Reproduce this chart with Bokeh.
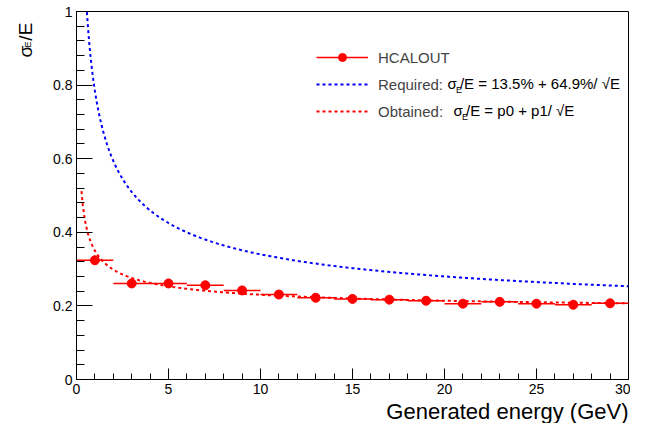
import numpy as np
from bokeh.plotting import figure
from bokeh.layouts import row
from bokeh.models import (Range1d, FixedTicker, Label, Legend, LegendItem,
                          ColumnDataSource, Title)
from bokeh.embed import file_html
from bokeh.resources import INLINE

# ---------------- data ----------------
energy = [1, 3, 5, 7, 9, 11, 13, 15, 17, 19, 21, 23, 25, 27, 29]
energy_halfwidth = [1] * 15
resolution = [0.324, 0.261, 0.261, 0.256, 0.242, 0.231, 0.222, 0.219,
              0.217, 0.214, 0.206, 0.211, 0.206, 0.203, 0.207]

# Required: sigma/E = 13.5% + 64.9%/sqrt(E)
req_constant = 0.135
req_stochastic = 0.649
req_range = (0.4, 30.0)

# Obtained fit: p0 + p1/sqrt(E)
fit_p0 = 0.175
fit_p1 = 0.175
fit_range = (0.27, 30.0)

x_ticks = [0, 5, 10, 15, 20, 25, 30]
x_tick_labels = ["0", "5", "10", "15", "20", "25", "30"]
y_ticks = [0, 0.2, 0.4, 0.6, 0.8, 1.0]
y_tick_labels = ["0", "0.2", "0.4", "0.6", "0.8", "1"]

legend_labels = ["HCALOUT", "Required:", "Obtained:"]
x_title = "Generated energy (GeV)"

FONT = "Liberation Sans"
H = 423          # figure height
YT_W = 40        # width of the y-title strip
TOTAL_W = 630

# ---------------- main figure ----------------
p = figure(width=TOTAL_W - YT_W, height=H, x_range=Range1d(0, 30),
           y_range=Range1d(0, 1), output_backend="svg", toolbar_location=None,
           min_border_left=76 - YT_W, min_border_right=2, min_border_top=11,
           min_border_bottom=42)
p.xgrid.visible = False
p.ygrid.visible = False
p.outline_line_color = "black"
p.outline_line_width = 1
p.background_fill_color = "white"
p.border_fill_color = "white"

x_minor = [v for v in range(0, 31) if v % 5 != 0]
y_minor = [round(v, 2) for v in np.arange(0, 1.0001, 0.04) if round(v / 0.2, 6) % 1 != 0]
p.xaxis.ticker = FixedTicker(ticks=x_ticks, minor_ticks=x_minor)
p.yaxis.ticker = FixedTicker(ticks=y_ticks, minor_ticks=y_minor)
p.xaxis.major_label_overrides = dict(zip(x_ticks, x_tick_labels))
p.yaxis.major_label_overrides = dict(zip(y_ticks, y_tick_labels))

for ax in (p.xaxis, p.yaxis):
    ax.axis_line_color = "black"
    ax.major_tick_line_color = "black"
    ax.minor_tick_line_color = "black"
    ax.major_tick_out = 0
    ax.minor_tick_out = 0
    ax.major_label_text_font = FONT
    ax.major_label_text_font_size = "14px"
    ax.major_label_text_color = "black"
p.xaxis.major_tick_in = 11
p.xaxis.minor_tick_in = 6
p.yaxis.major_tick_in = 16
p.yaxis.minor_tick_in = 8
p.xaxis.major_label_standoff = 4
p.yaxis.major_label_standoff = 4

# x-axis title, right aligned under the axis
p.add_layout(Title(text=x_title, align="right", text_font=FONT,
                   text_font_size="22px", text_font_style="normal",
                   text_color="black", standoff=0, offset=0), "below")

# ---------------- marks ----------------
e = np.array(energy, dtype=float)
hw = np.array(energy_halfwidth, dtype=float)
src = ColumnDataSource(dict(x=e, y=resolution, x0=e - hw, x1=e + hw))

err = p.segment(x0="x0", y0="y", x1="x1", y1="y", source=src,
                line_color="#ff0000", line_width=1.5)
pts = p.scatter("x", "y", source=src, size=9, color="#ff0000")

e_req = np.linspace(req_range[0], req_range[1], 400)
req_line = p.line(e_req, req_constant + req_stochastic / np.sqrt(e_req),
                  line_color="#0000ff", line_width=2, line_dash="3 3")

e_fit = np.linspace(fit_range[0], fit_range[1], 400)
fit_line = p.line(e_fit, fit_p0 + fit_p1 / np.sqrt(e_fit),
                  line_color="#ff0000", line_width=2, line_dash="3 3")

# ---------------- legend ----------------
legend = Legend(items=[LegendItem(label=legend_labels[0], renderers=[err, pts]),
                       LegendItem(label=legend_labels[1], renderers=[req_line]),
                       LegendItem(label=legend_labels[2], renderers=[fit_line])],
                location=(240, 258), glyph_width=52, glyph_height=20,
                label_height=20, label_standoff=10, spacing=7, padding=0,
                margin=0, border_line_alpha=0, background_fill_alpha=0,
                label_text_font=FONT, label_text_font_size="15px")
p.add_layout(legend)


def txt(fig, x, y, text, size, dx=0, dy=0, **kw):
    lab = Label(x=x, y=y, x_offset=dx, y_offset=dy, text=text,
                text_font=FONT, text_font_size=size, text_color="black", **kw)
    fig.add_layout(lab)


# formula pieces after the legend labels (row anchors in data coords)
row2 = (20.16, 0.803)
row3 = (20.49, 0.730)
for (ax_, ay_), rest in ((row2, "/E = 13.5% + 64.9%/ \u221aE"),
                         (row3, "/E = p0 + p1/ \u221aE")):
    txt(p, ax_, ay_, "\u03c3", "15px", text_baseline="middle")
    txt(p, ax_, ay_, "E", "9px", dx=8.5, dy=-6, text_baseline="middle")
    txt(p, ax_, ay_, rest, "15px", dx=12.5, text_baseline="middle")

# ---------------- y-axis title strip (rotated, top aligned) ----------------
yt = figure(width=YT_W, height=H, x_range=Range1d(0, YT_W), y_range=Range1d(0, H),
            output_backend="svg", toolbar_location=None,
            x_axis_location=None, y_axis_location=None, min_border=0)
yt.xgrid.visible = False
yt.ygrid.visible = False
yt.outline_line_color = None
yt.background_fill_color = "white"
yt.border_fill_color = "white"
txt(yt, 25, H - 53, "\u03c3", "19px", angle=np.pi / 2, text_baseline="alphabetic")
txt(yt, 27, H - 41.5, "E", "9px", angle=np.pi / 2, text_baseline="alphabetic")
txt(yt, 25, H - 33.5, "/E", "19px", angle=np.pi / 2, text_baseline="alphabetic")

layout = row(yt, p)
open("out.html", "w").write(file_html(layout, INLINE))
